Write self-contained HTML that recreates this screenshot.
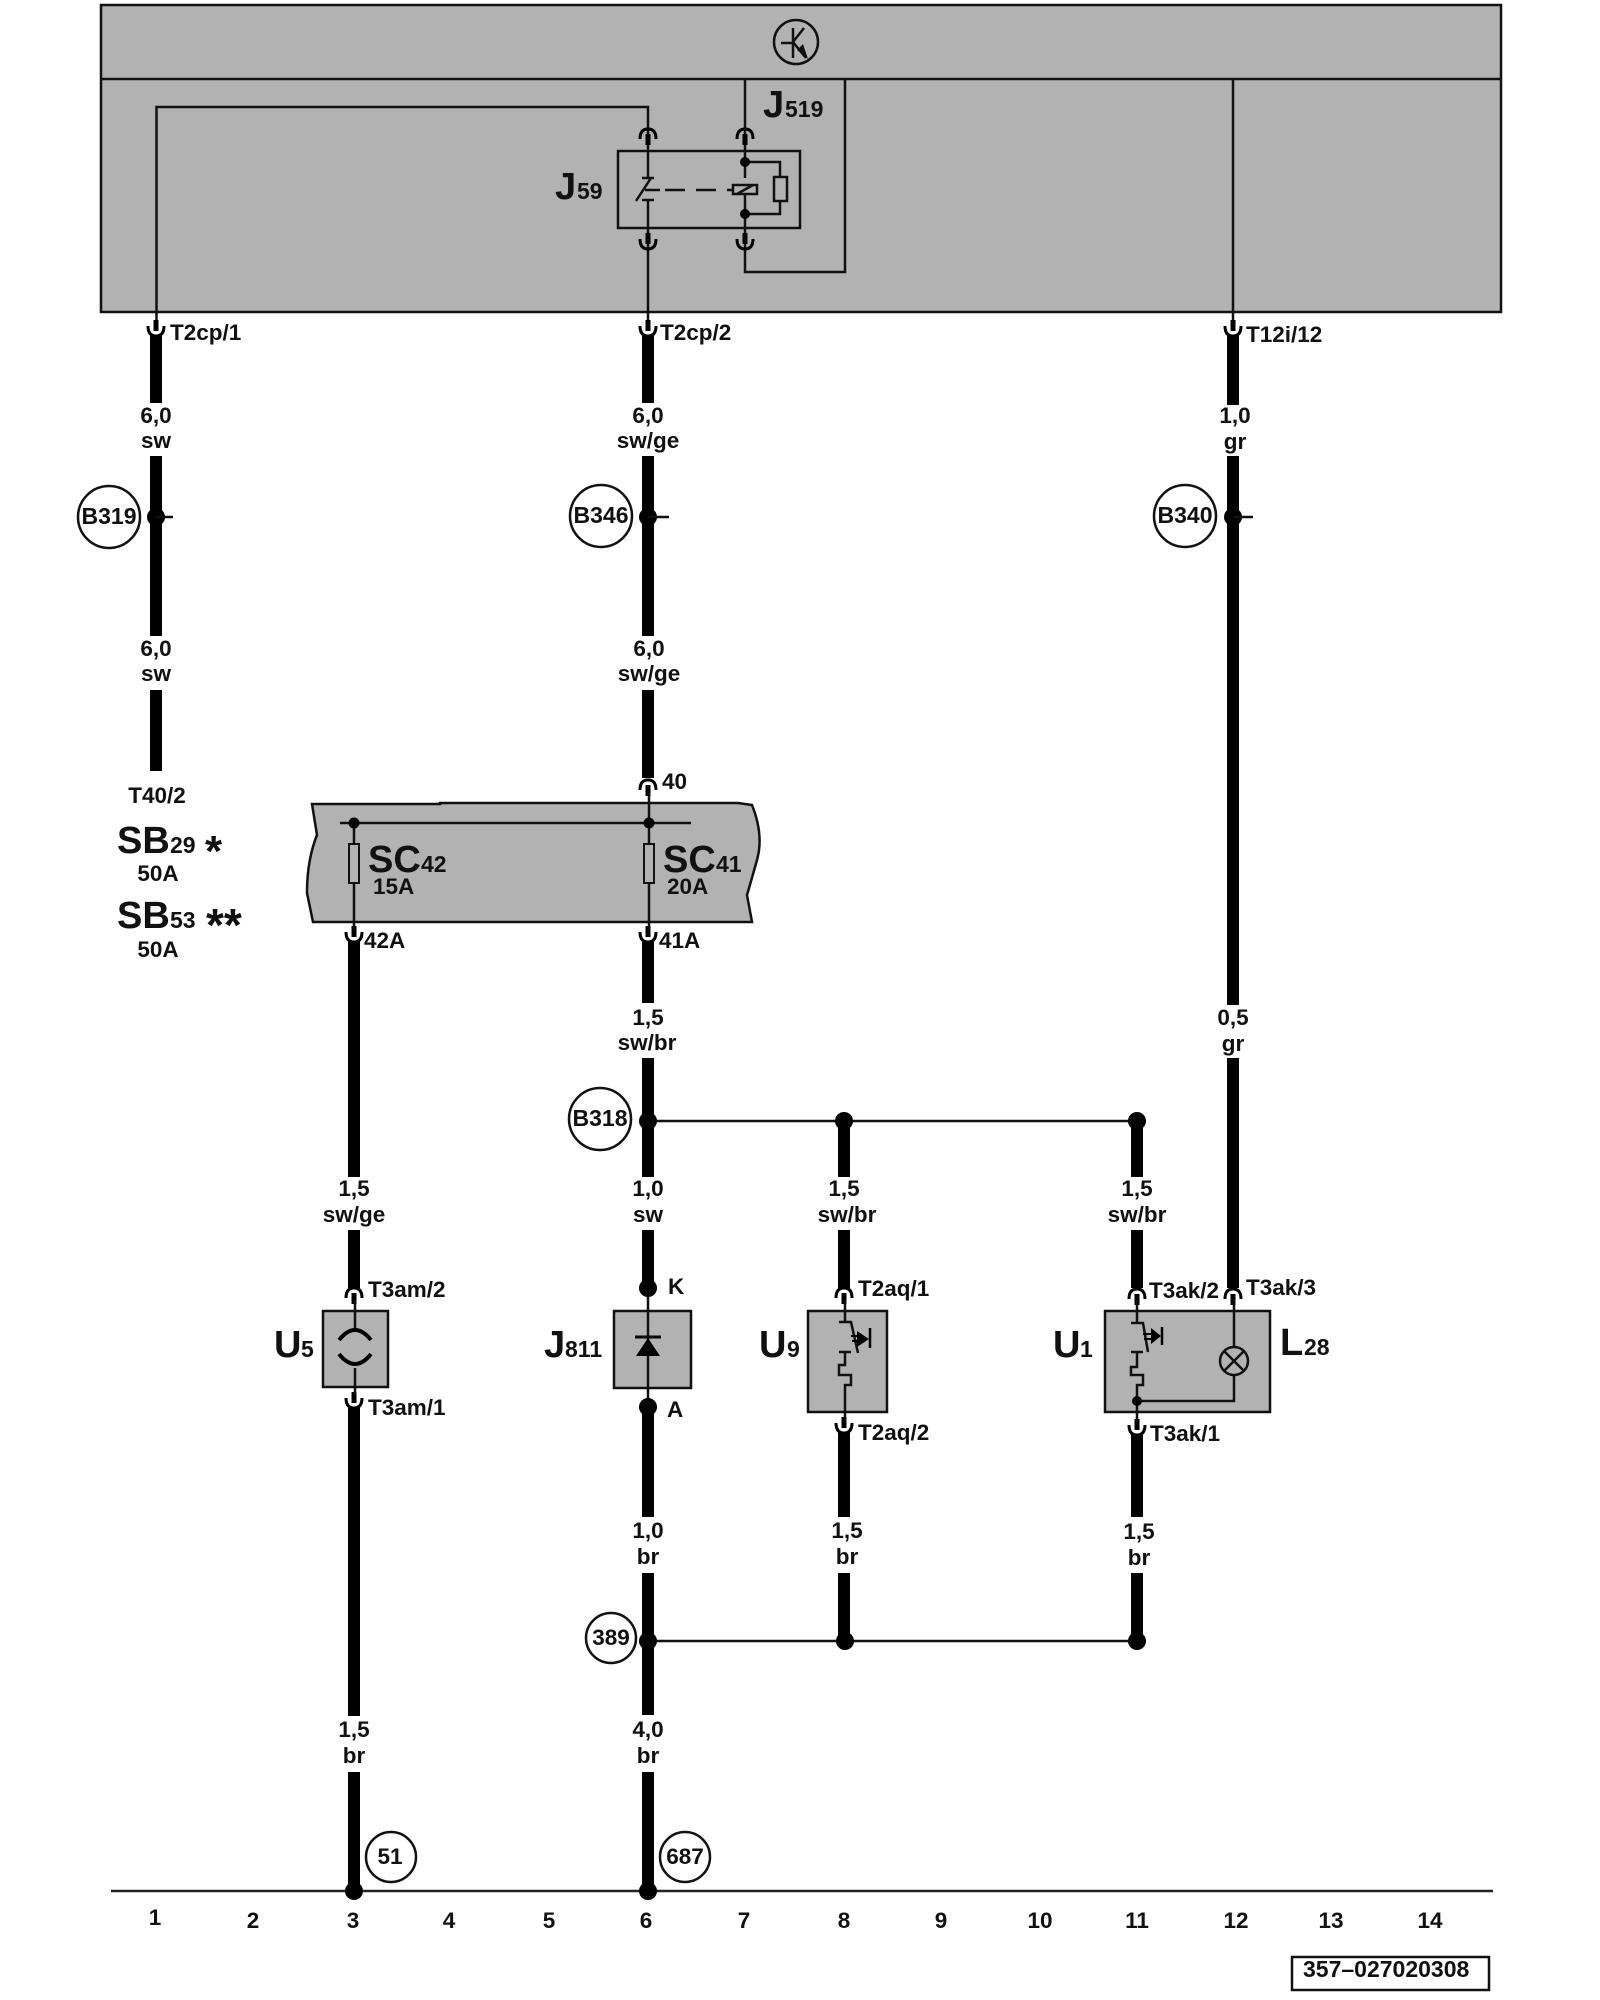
<!DOCTYPE html>
<html>
<head>
<meta charset="utf-8">
<style>
html,body{margin:0;padding:0;background:#fff;width:1600px;height:2000px;overflow:hidden}
svg{display:block}
text{font-family:"Liberation Sans",sans-serif;font-weight:bold;fill:#111;font-size:22.500px}
.c{text-anchor:middle}
.big{font-size:38px}
.sub{font-size:23px}
.th{stroke:#000;stroke-width:12;fill:none}
.tn{stroke:#111;stroke-width:2.5;fill:none}
.box{fill:#b2b2b2;stroke:#111;stroke-width:2.5}
</style>
</head>
<body>
<svg width="1600" height="2000" viewBox="0 0 1600 2000" xmlns="http://www.w3.org/2000/svg">
<defs>
<g id="cn"><path d="M-8,-10 Q-8,0 0,0 Q8,0 8,-10" fill="none" stroke="#000" stroke-width="3"/><path d="M0,-16 V-5" stroke="#000" stroke-width="5"/></g>
</defs>
<rect width="1600" height="2000" fill="#fff"/>

<!-- top box -->
<rect class="box" x="101" y="5" width="1400" height="307"/>
<path class="tn" d="M101,79 H1501" stroke-width="3"/>
<circle cx="796" cy="42" r="22" fill="none" stroke="#111" stroke-width="2.5"/>
<path class="tn" d="M781,43 H793 M793,28 V58 M793,42 L804,28 M793,42 L806,58"/>
<path d="M808,59 L797,50 L803,44 Z" fill="#111"/>

<!-- inner wiring -->
<path class="tn" d="M156.500,320 V107 H648 V178 M648,200 V320 M745,79 V178 M745,194 V272 H845 V79 M1233,79 V320"/>
<rect x="618" y="151" width="182" height="77" fill="none" stroke="#111" stroke-width="2.500"/>
<path class="tn" d="M642,178 H654 M642,200 H654 M651,178 L636,201 M645,190 H660"/>
<path class="tn" d="M665,190 H733" stroke-dasharray="20 11"/>
<rect x="733" y="185" width="24" height="9" fill="none" stroke="#111" stroke-width="2.500"/>
<path class="tn" d="M737,194 L753,185"/>
<path class="tn" d="M745,162 H780 V177 M780,201 V214 H745"/>
<rect x="774" y="177" width="13" height="24" fill="none" stroke="#111" stroke-width="2.500"/>
<circle cx="745" cy="162" r="5" fill="#000"/>
<circle cx="745" cy="214" r="5" fill="#000"/>
<use href="#cn" transform="translate(648,129) scale(1,-1)"/>
<use href="#cn" transform="translate(745,129) scale(1,-1)"/>
<use href="#cn" transform="translate(648,249)"/>
<use href="#cn" transform="translate(745,249)"/>
<text class="big" x="763" y="117">J</text><text class="sub" x="785" y="117">519</text>
<text class="big" x="555" y="199">J</text><text class="sub" x="577" y="199">59</text>

<!-- thick wires -->
<path class="th" d="M156,335 V403 M156,456 V636 M156,690 V771"/>
<path class="th" d="M648,335 V403 M648,456 V636 M648,690 V778 M648,942 V1003 M648,1058 V1177 M648,1230 V1288 M648,1407 V1517 M648,1573 V1715 M648,1772 V1891"/>
<path class="th" d="M1233,336 V405 M1233,456 V1005 M1233,1058 V1288"/>
<path class="th" d="M354,942 V1177 M354,1230 V1288 M354,1408 V1716 M354,1772 V1891"/>
<path class="th" d="M844,1121 V1177 M844,1230 V1288 M844,1433 V1517 M844,1573 V1641"/>
<path class="th" d="M1137,1121 V1177 M1137,1230 V1288 M1137,1435 V1517 M1137,1573 V1641"/>

<!-- connector arrows -->
<use href="#cn" transform="translate(156,336)"/>
<use href="#cn" transform="translate(648,336)"/>
<use href="#cn" transform="translate(1233,336)"/>
<use href="#cn" transform="translate(648,780) scale(1,-1)"/>
<use href="#cn" transform="translate(354,942)"/>
<use href="#cn" transform="translate(648,942)"/>
<use href="#cn" transform="translate(354,1288) scale(1,-1)"/>
<use href="#cn" transform="translate(844,1288) scale(1,-1)"/>
<use href="#cn" transform="translate(1137,1289) scale(1,-1)"/>
<use href="#cn" transform="translate(1233,1289) scale(1,-1)"/>
<use href="#cn" transform="translate(354,1408)"/>
<use href="#cn" transform="translate(844,1433)"/>
<use href="#cn" transform="translate(1137,1435)"/>

<text x="170" y="340">T2cp/1</text>
<text x="660" y="340">T2cp/2</text>
<text x="1246" y="342">T12i/12</text>

<!-- splices -->
<circle cx="109" cy="517" r="31" fill="#fff" stroke="#111" stroke-width="2.500"/>
<text class="c" x="109" y="524" style="font-size:23px">B319</text>
<circle cx="156" cy="517" r="9" fill="#000"/><path class="tn" d="M156,517 H173"/>
<circle cx="601" cy="516" r="31" fill="#fff" stroke="#111" stroke-width="2.500"/>
<text class="c" x="601" y="523" style="font-size:23px">B346</text>
<circle cx="648" cy="517" r="9" fill="#000"/><path class="tn" d="M648,517 H669"/>
<circle cx="1185" cy="516" r="31" fill="#fff" stroke="#111" stroke-width="2.500"/>
<text class="c" x="1185" y="523" style="font-size:23px">B340</text>
<circle cx="1233" cy="517" r="9" fill="#000"/><path class="tn" d="M1233,517 H1253"/>

<!-- wire labels -->
<text class="c" x="156" y="423">6,0</text><text class="c" x="156" y="448">sw</text>
<text class="c" x="156" y="656">6,0</text><text class="c" x="156" y="681">sw</text>
<text class="c" x="648" y="423">6,0</text><text class="c" x="648" y="448">sw/ge</text>
<text class="c" x="649" y="656">6,0</text><text class="c" x="649" y="681">sw/ge</text>
<text class="c" x="1235" y="423">1,0</text><text class="c" x="1235" y="449">gr</text>
<text class="c" x="1233" y="1025">0,5</text><text class="c" x="1233" y="1051">gr</text>
<text class="c" x="648" y="1025">1,5</text><text class="c" x="647" y="1050">sw/br</text>
<text class="c" x="354" y="1196">1,5</text><text class="c" x="354" y="1222">sw/ge</text>
<text class="c" x="648" y="1196">1,0</text><text class="c" x="648" y="1222">sw</text>
<text class="c" x="844" y="1196">1,5</text><text class="c" x="847" y="1222">sw/br</text>
<text class="c" x="1137" y="1196">1,5</text><text class="c" x="1137" y="1222">sw/br</text>
<text class="c" x="648" y="1538">1,0</text><text class="c" x="648" y="1564">br</text>
<text class="c" x="847" y="1538">1,5</text><text class="c" x="847" y="1564">br</text>
<text class="c" x="1139" y="1539">1,5</text><text class="c" x="1139" y="1565">br</text>
<text class="c" x="354" y="1737">1,5</text><text class="c" x="354" y="1763">br</text>
<text class="c" x="648" y="1737">4,0</text><text class="c" x="648" y="1763">br</text>

<!-- left SB labels -->
<text class="c" x="157" y="803">T40/2</text>
<text class="big" x="117" y="853">SB</text><text class="sub" x="170" y="853">29</text>
<text x="205" y="866" style="font-size:44px">*</text>
<text class="c" x="158" y="881">50A</text>
<text class="big" x="117" y="928">SB</text><text class="sub" x="170" y="928">53</text>
<text x="206" y="941" style="font-size:46px">**</text>
<text class="c" x="158" y="957">50A</text>

<!-- fuse box -->
<path class="box" d="M312,804 H440 V803 H738 L752,805 Q764,835 757,860 Q750,885 747,895 L752,922 H313 L307,893 Q307,860 317,835 Z"/>
<path class="tn" d="M340,823 H691 M354,823 V930 M649,793 V930"/>
<rect x="349" y="844" width="10" height="39" fill="#b2b2b2" stroke="#111" stroke-width="2"/>
<rect x="644" y="844" width="10" height="39" fill="#b2b2b2" stroke="#111" stroke-width="2"/>
<circle cx="354" cy="823" r="5.500" fill="#000"/>
<circle cx="649" cy="823" r="5.500" fill="#000"/>
<text class="big" x="368" y="872">SC</text><text class="sub" x="421" y="872">42</text>
<text x="373" y="894">15A</text>
<text class="big" x="663" y="872">SC</text><text class="sub" x="716" y="872">41</text>
<text x="667" y="894">20A</text>
<text x="662" y="789">40</text>
<text x="364" y="948">42A</text>
<text x="659" y="948">41A</text>

<!-- B318 junction -->
<path class="tn" d="M648,1121 H1137"/>
<circle cx="600" cy="1119" r="31" fill="#fff" stroke="#111" stroke-width="2.500"/>
<text class="c" x="600" y="1126" style="font-size:23px">B318</text>
<circle cx="648" cy="1121" r="9" fill="#000"/>
<circle cx="844" cy="1121" r="9" fill="#000"/>
<circle cx="1137" cy="1121" r="9" fill="#000"/>

<!-- U5 -->
<rect class="box" x="323" y="1311" width="65" height="76"/>
<path class="tn" d="M355,1300 V1328 M355,1368 V1395"/>
<path d="M339,1340 Q355,1320 371,1340 M339,1354 Q355,1374 371,1354" fill="none" stroke="#000" stroke-width="4"/>
<text x="368" y="1297">T3am/2</text>
<text x="368" y="1415">T3am/1</text>
<text class="big" x="274" y="1357">U</text><text class="sub" x="301" y="1357">5</text>

<!-- J811 -->
<rect class="box" x="614" y="1311" width="77" height="77"/>
<path class="tn" d="M648,1288 V1407"/>
<path d="M635,1337 H661" stroke="#000" stroke-width="3"/>
<path d="M648,1338 L660,1356 H636 Z" fill="#000"/>
<circle cx="648" cy="1288" r="9" fill="#000"/>
<circle cx="648" cy="1407" r="9" fill="#000"/>
<text x="668" y="1294">K</text>
<text x="667" y="1417">A</text>
<text class="big" x="544" y="1357">J</text><text class="sub" x="565" y="1357">811</text>

<!-- U9 -->
<rect class="box" x="808" y="1311" width="79" height="101"/>
<path class="tn" d="M845,1300 V1322 M839,1322 H851 L858,1353 M839,1352 H851 M845,1352 V1365 H839 V1375 H851 V1385 H845 V1420"/>
<path d="M851,1336 H858 M852,1341 H858" stroke="#000" stroke-width="2"/>
<path d="M857,1331 L869,1339 L857,1347 Z" fill="#000"/>
<path d="M870,1328 V1348" stroke="#000" stroke-width="2.500"/>
<text x="858" y="1296">T2aq/1</text>
<text x="858" y="1440">T2aq/2</text>
<text class="big" x="759" y="1357">U</text><text class="sub" x="787" y="1357">9</text>

<!-- U1 / L28 -->
<rect class="box" x="1105" y="1311" width="165" height="101"/>
<path class="tn" d="M1137,1300 V1323 M1131,1323 H1143 L1148,1352 M1131,1352 H1143 M1137,1352 V1367 H1131 V1375 H1143 V1385 H1137 V1422 M1137,1401 H1234 V1375 M1234,1347 V1300"/>
<path d="M1143,1334 H1152 M1144,1339 H1152" stroke="#000" stroke-width="2"/>
<path d="M1151,1328 L1161,1336 L1151,1344 Z" fill="#000"/>
<path d="M1162,1327 V1345" stroke="#000" stroke-width="2.500"/>
<circle cx="1234" cy="1361" r="14" fill="none" stroke="#111" stroke-width="2.500"/>
<path class="tn" d="M1224,1351 L1244,1371 M1244,1351 L1224,1371"/>
<circle cx="1137" cy="1401" r="5" fill="#000"/>
<text x="1149" y="1298">T3ak/2</text>
<text x="1246" y="1295">T3ak/3</text>
<text x="1150" y="1441">T3ak/1</text>
<text class="big" x="1053" y="1357">U</text><text class="sub" x="1080" y="1357">1</text>
<text class="big" x="1280" y="1355">L</text><text class="sub" x="1304" y="1355">28</text>

<!-- 389 junction -->
<path class="tn" d="M648,1641 H1137"/>
<circle cx="611" cy="1638" r="25" fill="#fff" stroke="#111" stroke-width="2.500"/>
<text class="c" x="611" y="1645">389</text>
<circle cx="648" cy="1641" r="9" fill="#000"/>
<circle cx="845" cy="1641" r="9" fill="#000"/>
<circle cx="1137" cy="1641" r="9" fill="#000"/>

<!-- ground bar -->
<path d="M111,1891 H1493" stroke="#222" stroke-width="2.500" fill="none"/>
<circle cx="354" cy="1891" r="9" fill="#000"/>
<circle cx="648" cy="1891" r="9" fill="#000"/>
<circle cx="391" cy="1857" r="25" fill="none" stroke="#111" stroke-width="2.500"/>
<text class="c" x="390" y="1864">51</text>
<circle cx="685" cy="1857" r="25" fill="none" stroke="#111" stroke-width="2.500"/>
<text class="c" x="685" y="1864">687</text>

<!-- numbering -->
<text class="c" x="155" y="1925">1</text>
<text class="c" x="253" y="1928">2</text>
<text class="c" x="353" y="1928">3</text>
<text class="c" x="449" y="1928">4</text>
<text class="c" x="549" y="1928">5</text>
<text class="c" x="646" y="1928">6</text>
<text class="c" x="744" y="1928">7</text>
<text class="c" x="844" y="1928">8</text>
<text class="c" x="941" y="1928">9</text>
<text class="c" x="1040" y="1928">10</text>
<text class="c" x="1137" y="1928">11</text>
<text class="c" x="1236" y="1928">12</text>
<text class="c" x="1331" y="1928">13</text>
<text class="c" x="1430" y="1928">14</text>

<rect x="1292" y="1957" width="197" height="33" fill="#fff" stroke="#111" stroke-width="2.500"/>
<text x="1303" y="1977" style="font-size:23px">357–027020308</text>
</svg>
</body>
</html>
